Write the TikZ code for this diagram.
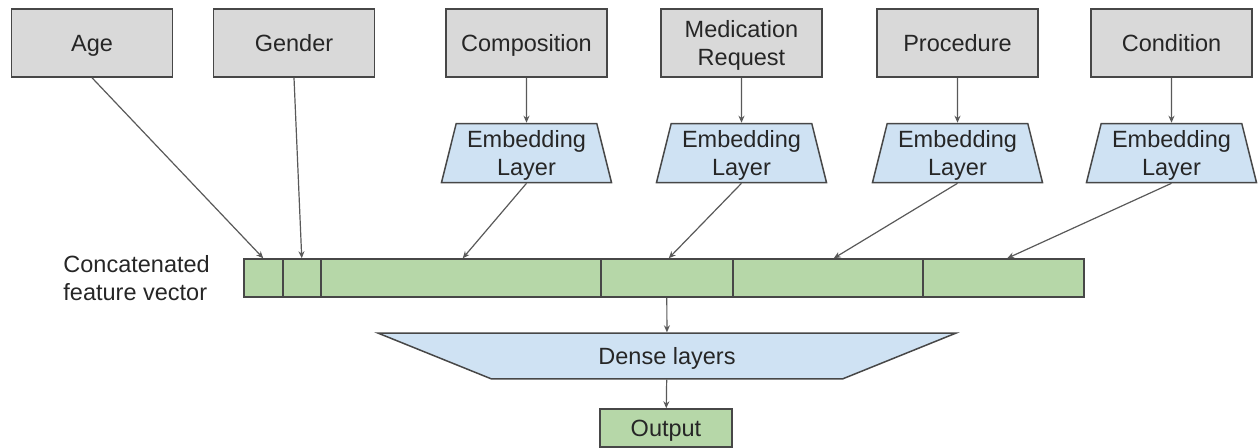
\documentclass[tikz,border=0pt]{standalone}
\usepackage{fontspec}
\setmainfont{Liberation Sans}
\usetikzlibrary{arrows.meta,positioning,shapes.geometric}
\definecolor{boxgray}{HTML}{D9D9D9}
\definecolor{embblue}{HTML}{CFE2F3}
\definecolor{vecgreen}{HTML}{B6D7A8}
\definecolor{edgegray}{HTML}{474747}

\begin{document}
\begin{tikzpicture}[x=1pt,y=-1pt,>={Stealth[length=7pt,width=6pt]},
  every node/.style={font=\fontsize{23.5}{28}\selectfont,text=black!85,text depth=0pt},
  input node/.style={rectangle,draw=edgegray,line width=1.5pt,fill=boxgray,
    minimum width=161pt,minimum height=68pt,align=center,inner sep=2pt},
  emb node/.style={trapezium,trapezium left angle=76,trapezium right angle=76,
    trapezium stretches body,draw=edgegray,line width=1.5pt,fill=embblue,
    minimum width=170pt,inner xsep=1pt,inner ysep=7pt,align=center},
  cell/.style={rectangle,draw=edgegray,line width=1.5pt,fill=vecgreen,
    minimum height=38pt,inner sep=0pt,anchor=west},
  link/.style={->,draw=edgegray!90,line width=1.2pt}]

\useasboundingbox (0,0) rectangle (1258,447);

% inputs
\foreach \n/\x/\t in {age/92/Age,gender/294/Gender,comp/526.5/Composition,
  med/741.5/{Medication\\Request},proc/957.5/Procedure,cond/1171.5/Condition}{
  \node[input node] (\n) at (\x,43) {\t};
}

% embedding layers
\foreach \n in {comp,med,proc,cond}{
  \node[emb node,below=45pt of \n] (\n-emb) {Embedding\\Layer};
  \draw[link] (\n) -- (\n-emb);
}

% concatenated feature vector
\foreach \c/\l/\r in {1/243/282,2/282/320,3/320/600,4/600/732,5/732/922,6/922/1083}{
  \node[cell,minimum width={(\r-\l)*1pt}] (c\c) at (\l,278) {};
}
\node[left=33pt of c1,align=left,inner sep=0pt] (label) {Concatenated\\feature vector};

\draw[link] (age.south) -- (c1.north);
\draw[link] (gender.south) -- (c2.north);
\foreach \n/\c/\s in {comp/3/2,med/4/2,proc/5/6,cond/6/4}{
  \draw[link] (\n-emb.south) -- ([xshift=\s pt]c\c.north);
}

% dense layers and output
\node[trapezium,shape border rotate=180,trapezium left angle=22,trapezium right angle=22,
  trapezium stretches body,draw=edgegray,line width=1.5pt,fill=embblue,
  minimum width=578pt,inner xsep=2pt,inner ysep=14.4pt] (dense) at (667,356) {Dense layers};
\node[rectangle,draw=edgegray,line width=1.5pt,fill=vecgreen,minimum width=132pt,
  minimum height=38pt,inner sep=1pt] (out) at (666,428) {Output};

\draw[link] (c4) -- (dense);
\draw[link] (dense) -- (out);
\end{tikzpicture}
\end{document}
